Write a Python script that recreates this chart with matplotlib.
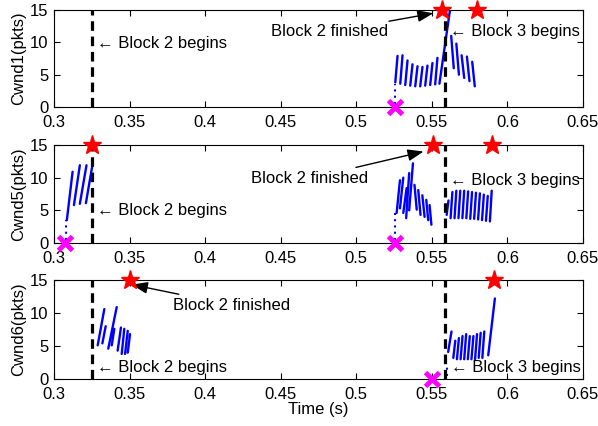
import numpy as np
import matplotlib.pyplot as plt

plt.rcParams['font.family'] = ['Liberation Sans', 'DejaVu Sans']
plt.rcParams['font.size'] = 12

# block boundaries (s)
block2_start = 0.325
block3_start = 0.559

# --- Cwnd1 ---
c1_t0 = [0.5258, 0.5291, 0.5324, 0.5357, 0.5390, 0.5423, 0.5456, 0.5489, 0.5522, 0.5550,
         0.5628, 0.5662, 0.5697, 0.5732, 0.5767]
c1_t1 = [0.5273, 0.5306, 0.5339, 0.5372, 0.5405, 0.5438, 0.5471, 0.5504, 0.5537, 0.5620,
         0.5645, 0.5679, 0.5714, 0.5749, 0.5784]
c1_y0 = [3.8, 3.6, 3.4, 3.3, 3.2, 3.2, 3.3, 3.4, 3.5, 3.6, 11.0, 9.8, 8.0, 7.8, 7.0]
c1_y1 = [7.9, 8.0, 7.2, 6.6, 6.3, 6.2, 6.4, 6.8, 7.6, 15.0, 6.0, 5.0, 4.5, 4.0, 3.2]
c1_dots = [(0.5256, 0.4, 3.6)]
c1_stars = ([0.5565, 0.580], [15, 15])
c1_cross = ([0.5256], [0])

# --- Cwnd5 ---
c5_t0 = [0.3085, 0.3132, 0.3171, 0.3211,
         0.5267, 0.5289, 0.5311, 0.5330, 0.5350, 0.5385, 0.5410, 0.5437, 0.5463, 0.5485,
         0.5598, 0.5624, 0.5650, 0.5676, 0.5702, 0.5728, 0.5754, 0.5780, 0.5806, 0.5832,
         0.5858, 0.5884]
c5_t1 = [0.3123, 0.3171, 0.3215, 0.3254,
         0.5289, 0.5311, 0.5333, 0.5350, 0.5375, 0.5400, 0.5425, 0.5452, 0.5476, 0.5497,
         0.5610, 0.5636, 0.5662, 0.5688, 0.5714, 0.5740, 0.5766, 0.5792, 0.5818, 0.5844,
         0.5870, 0.5896]
c5_y0 = [3.5, 5.8, 6.0, 6.1,
         4.6, 5.3, 4.6, 3.8, 5.0, 8.9, 8.1, 7.3, 6.6, 5.8,
         4.3, 3.8, 3.8, 3.8, 3.8, 3.8, 3.7, 3.7, 3.6, 3.5, 3.4, 3.3]
c5_y1 = [10.9, 11.9, 11.9, 11.9,
         9.6, 10.0, 8.4, 10.7, 12.2, 5.1, 4.3, 4.0, 3.5, 2.8,
         6.5, 7.8, 8.0, 8.0, 8.0, 7.9, 7.8, 7.7, 7.6, 7.4, 7.2, 8.0]
c5_dots = [(0.3082, 0.4, 3.5), (0.5256, 0.4, 4.6)]
c5_stars = ([0.325, 0.5505, 0.590], [15, 15, 15])
c5_cross = ([0.3075, 0.5256], [0, 0])

# --- Cwnd6 ---
c6_t0 = [0.3289, 0.3320, 0.3359, 0.3382, 0.3421, 0.3448, 0.3470, 0.3488,
         0.5608, 0.5642, 0.5666, 0.5690, 0.5714, 0.5738, 0.5762, 0.5786, 0.5810, 0.5834,
         0.5873]
c6_t1 = [0.3333, 0.3342, 0.3415, 0.3399, 0.3443, 0.3465, 0.3488, 0.3503,
         0.5630, 0.5655, 0.5679, 0.5703, 0.5727, 0.5751, 0.5775, 0.5799, 0.5823, 0.5847,
         0.5917]
c6_y0 = [5.1, 5.4, 4.6, 5.1, 4.3, 3.8, 3.8, 4.0,
         4.1, 3.2, 3.0, 3.0, 3.0, 3.0, 3.0, 3.0, 3.2, 3.2, 3.6]
c6_y1 = [10.6, 8.0, 10.9, 7.6, 7.8, 7.6, 7.3, 6.8,
         7.2, 5.8, 6.2, 6.5, 6.8, 6.5, 6.5, 6.8, 7.0, 7.2, 12.2]
c6_dots = [(0.5598, 0.4, 1.8)]
c6_stars = ([0.350, 0.591], [15, 15])
c6_cross = ([0.550], [0])

ylabels = ['Cwnd1(pkts)', 'Cwnd5(pkts)', 'Cwnd6(pkts)']
# text notes: (text, x, y)
begin_notes = [
    [('\u2190 Block 2 begins', 0.3285, 9.8), ('\u2190 Block 3 begins', 0.5618, 11.6)],
    [('\u2190 Block 2 begins', 0.3285, 5.0), ('\u2190 Block 3 begins', 0.5618, 9.6)],
    [('\u2190 Block 2 begins', 0.3285, 1.8), ('\u2190 Block 3 begins', 0.5625, 1.8)],
]
# "Block 2 finished": text centre, arrow tip
finish_notes = [((0.482, 11.6), (0.551, 14.5)),
                ((0.469, 9.9), (0.5445, 14.0)),
                ((0.4176, 11.2), (0.3515, 14.3))]

panels = [
    (c1_t0, c1_t1, c1_y0, c1_y1, c1_dots, c1_stars, c1_cross),
    (c5_t0, c5_t1, c5_y0, c5_y1, c5_dots, c5_stars, c5_cross),
    (c6_t0, c6_t1, c6_y0, c6_y1, c6_dots, c6_stars, c6_cross),
]

fig = plt.figure(figsize=(5.98, 4.26), dpi=100)
rects = [[0.0903, 0.7488, 0.8846, 0.2277],
         [0.0903, 0.4296, 0.8846, 0.2300],
         [0.0903, 0.1103, 0.8846, 0.2324]]

for i, (t0, t1, y0, y1, dots, stars, cross) in enumerate(panels):
    ax = fig.add_axes(rects[i])
    # teeth as separate segments
    xs, ys = [], []
    for a, b, c, d in zip(t0, t1, y0, y1):
        xs += [a, b, np.nan]
        ys += [c, d, np.nan]
    ax.plot(xs, ys, color='b', lw=1.7, solid_capstyle='round')
    for x, lo, hi in dots:
        ax.plot([x, x], [lo, hi], color='b', lw=1.5, ls=(0, (1, 2)))
    for xb in (block2_start, block3_start):
        ax.plot([xb, xb], [0, 15], color='k', lw=2.3, ls=(0, (3, 1.8)), zorder=3)
    ax.plot(stars[0], stars[1], ls='none', marker='*', ms=14, color='red',
            mec='red', clip_on=False, zorder=5)
    ax.plot(cross[0], cross[1], ls='none', marker='x', ms=10, mew=3.5,
            color='magenta', clip_on=False, zorder=5)
    for txt, x, y in begin_notes[i]:
        ax.text(x, y, txt, ha='left', va='center', fontsize=12)
    (tx, ty), (px, py) = finish_notes[i]
    ax.annotate('Block 2 finished', xy=(px, py), xytext=(tx, ty),
                ha='center', va='center', fontsize=12,
                arrowprops=dict(arrowstyle='-|>,head_length=0.8,head_width=0.3',
                                color='k', lw=1, shrinkA=2, shrinkB=0))
    ax.set_xlim(0.3, 0.65)
    ax.set_ylim(0, 15)
    ax.set_xticks([0.3, 0.35, 0.4, 0.45, 0.5, 0.55, 0.6, 0.65])
    ax.set_xticklabels(['0.3', '0.35', '0.4', '0.45', '0.5', '0.55', '0.6', '0.65'])
    ax.set_yticks([0, 5, 10, 15])
    ax.tick_params(direction='in', top=True, right=True, length=4, labelsize=12)
    ax.tick_params(axis='x', pad=6)
    ax.tick_params(axis='y', pad=4)
    for s in ax.spines.values():
        s.set_linewidth(0.8)
    ax.set_ylabel(ylabels[i], fontsize=12, labelpad=3)
    if i == 2:
        ax.set_xlabel('Time (s)', fontsize=12, labelpad=0)

fig.savefig('out.png', dpi=100)
